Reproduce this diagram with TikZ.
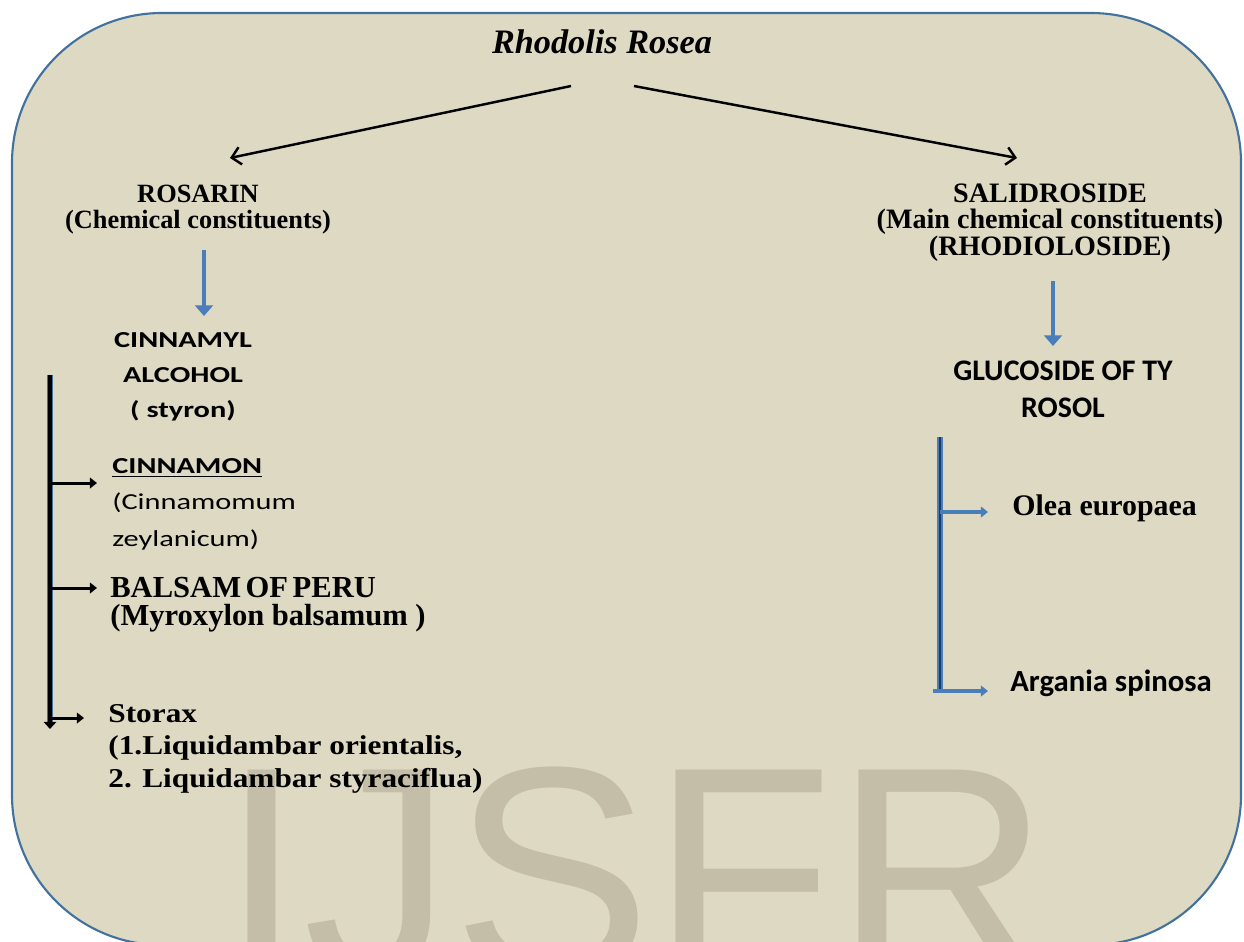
\documentclass[tikz,border=0pt]{standalone}
\usepackage{fontspec}
\setmainfont{Liberation Serif}
\newfontfamily\calibri{Carlito}
\newfontfamily\calibriwide[FakeStretch=1.33]{Carlito}
\newfontfamily\timeswide[FakeStretch=1.15]{Liberation Serif}
\newfontfamily\arialwm{Liberation Sans}
\usetikzlibrary{arrows.meta}
\definecolor{boxfill}{RGB}{221,217,195}
\definecolor{boxline}{RGB}{65,113,156}
\definecolor{wmark}{RGB}{196,189,168}
\definecolor{arrblue}{RGB}{74,126,187}
\definecolor{navy}{RGB}{31,56,100}

\begin{document}
\begin{tikzpicture}[x=0.02cm, y=-0.02cm, every node/.style={inner sep=0pt, anchor=base},
  blk/.style={line width=1.4pt, -{Straight Barb[length=5pt,width=10pt]}},
  bluedown/.style={arrblue, line width=2.8pt, -{Triangle[length=6pt,width=10pt]}},
  hblk/.style={line width=1.7pt, -{Triangle[length=4pt,width=6pt]}},
  hblue/.style={arrblue, line width=2pt, -{Triangle[length=4pt,width=6pt]}}]
\useasboundingbox (0,0) rectangle (1244,941);
\clip (0,0) rectangle (1244,941);
\draw[boxline, fill=boxfill, line width=1.2pt, rounded corners=3cm] (12,13) rectangle (1241,945);
\node[wmark, font=\arialwm\fontsize{170}{170}\selectfont, anchor=base west] (WM) at (220,975) {IJSFR};
% top
\node[font=\bfseries\itshape\fontsize{19.5}{19.5}\selectfont] (N0) at (602,53) {Rhodolis Rosea};
\node[font=\bfseries\fontsize{15}{14.7}\selectfont, align=center] (L1N0) at (198,228) {ROSARIN\\(Chemical constituents)};
\node[font=\bfseries\fontsize{16}{15}\selectfont, align=center] (R1N0) at (1050,255) {SALIDROSIDE\\(Main chemical constituents)\\(RHODIOLOSIDE)};
% left branch
\node[font=\calibriwide\bfseries\fontsize{13}{19.8}\selectfont, align=center] (L1N1) at (183,417) {CINNAMYL\\ALCOHOL\\( styron)};
\node[font=\calibriwide\fontsize{13}{20.7}\selectfont, align=left, anchor=base west] (L1N2) at (112,546) {\textbf{\underline{CINNAMON}}\\(Cinnamomum\\zeylanicum)};
\node[font=\bfseries\fontsize{17.4}{15.9}\selectfont, align=left, anchor=base west] (L1N3) at (110,625) {BALSAM\hspace{0.15em}OF\hspace{0.15em}PERU\\(Myroxylon balsamum )};
\node[font=\timeswide\bfseries\fontsize{15.5}{18.4}\selectfont, align=left, anchor=base west] (L1N4) at (108,787) {Storax\\(1.Liquidambar orientalis,\\2. Liquidambar styraciflua)};
% right branch
\node[font=\calibri\bfseries\fontsize{17}{21}\selectfont, align=center] (R1N1) at (1063,417) {GLUCOSIDE OF TY\\ROSOL};
\node[font=\bfseries\fontsize{17}{17}\selectfont, anchor=base west] (R1N2) at (1012,515) {Olea europaea};
\node[font=\calibri\bfseries\fontsize{17.5}{17.5}\selectfont, anchor=base west] (R1N3) at (1010,691) {Argania spinosa};
% arrow ends
\coordinate (N0a) at (571,86);
\coordinate (N0b) at (634,86);
\coordinate (L1a) at (230,158);
\coordinate (R1a) at (1017,158);
\coordinate (L1b) at (204,250);
\coordinate (L1c) at (204,316);
\coordinate (R1b) at (1053,281);
\coordinate (R1c) at (1053,346);
\coordinate (L2t) at (50,375);
\coordinate (L2b) at (50,729);
\coordinate (L2c1) at (97,483);
\coordinate (L2c2) at (97,588);
\coordinate (L2c3) at (84,718);
\coordinate (R2t) at (940,437);
\coordinate (R2b) at (940,692);
\coordinate (R2c1) at (988,512);
\coordinate (R2c2) at (988,691);
\draw[blk] (N0a) -- (L1a);
\draw[blk] (N0b) -- (R1a);
\draw[bluedown] (L1b) -- (L1c);
\draw[bluedown] (R1b) -- (R1c);
% left bar
\draw[boxline, line width=3.4pt] (L2t) -- ([yshift=3pt]L2b);
\draw[line width=2.2pt, -{Triangle[length=4pt,width=7pt]}] (L2t) -- (L2b);
\draw[hblk] (L2t |- L2c1) -- (L2c1);
\draw[hblk] (L2t |- L2c2) -- (L2c2);
\draw[hblk] (L2t |- L2c3) -- (L2c3);
% right bar
\draw[arrblue, line width=3.4pt] (R2t) -- (R2b);
\draw[navy, line width=1.4pt] (R2t) -- (R2b);
\draw[hblue] (R2t |- R2c1) -- (R2c1);
\draw[hblue] ([xshift=-4pt]R2t |- R2c2) -- (R2c2);
\end{tikzpicture}
\end{document}
